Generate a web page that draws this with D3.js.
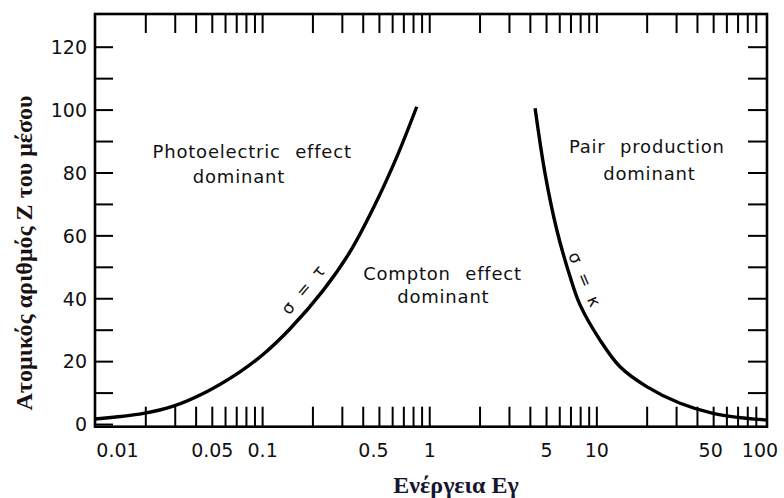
<!DOCTYPE html>
<html>
<head>
<meta charset="utf-8">
<script src="https://cdn.jsdelivr.net/npm/d3@7"></script>
<style>
  html, body { margin: 0; padding: 0; background: #fff; }
  svg { display: block; }
</style>
</head>
<body>
<svg id="chart" width="784" height="498"></svg>
<script>
// ---- data ----
// Boundary sigma = tau (photoelectric / Compton): photon energy (MeV) vs Z
const photoE = [0.01, 0.0195, 0.0294, 0.0466, 0.0737, 0.1017, 0.147, 0.232, 0.336, 0.463, 0.639, 0.842];
const photoZ = [1.6, 3.4, 5.7, 10.3, 16.6, 22.2, 30.3, 42.5, 54.8, 68.7, 84.9, 100.9];
// Boundary sigma = kappa (Compton / pair production)
const pairE = [4.30, 4.93, 5.80, 6.96, 7.99, 10.52, 13.86, 20.0, 31.7, 49.9, 79.4, 105];
const pairZ = [100.4, 79.7, 61.7, 46.9, 37.9, 26.7, 18.2, 11.9, 6.6, 3.4, 1.8, 1.3];
// Axis tick labels
const xTickLabels = [0.01, 0.05, 0.1, 0.5, 1, 5, 10, 50, 100];
const yTickLabels = [0, 20, 40, 60, 80, 100, 120];
// Region labels (text, energy at start, Z at baseline)
const regionLabels = [
  { lines: ["Photoelectric effect", "dominant"], E: [0.0221, 0.0385], Z: [84.5, 76.6] },
  { lines: ["Compton effect", "dominant"], E: [0.4025, 0.643], Z: [45.8, 38.4] },
  { lines: ["Pair production", "dominant"], E: [6.85, 11.0], Z: [86.2, 77.6] }
];
const xTitle = "Ενέργεια Εγ";
const yTitle = "Ατομικός αριθμός Z του μέσου";

// ---- layout ----
const mLeft = 95, mRight = 767, mTop = 14, mBottom = 426.7;
const svg = d3.select("#chart");

const x = d3.scaleLog().domain([0.01, 105]).range([mLeft, mRight]);
const y = d3.scaleLinear().domain([-0.85, 130.4]).range([mBottom, mTop]);

const sans = "'DejaVu Sans', sans-serif";
const serif = "'Liberation Serif', 'Times New Roman', serif";

// minor/major ticks on the log axis (inside the frame)
const xTicks = x.ticks().filter(v => v > 0.0101 && v < 99);

const axisStyle = g => {
  g.select(".domain").remove();
  g.selectAll(".tick line").attr("stroke", "#000").attr("stroke-width", 2);
};

svg.append("g").attr("transform", `translate(0,${mBottom})`)
  .call(d3.axisBottom(x).tickValues(xTicks).tickSize(-20).tickFormat(""))
  .call(axisStyle);
svg.append("g").attr("transform", `translate(0,${mTop})`)
  .call(d3.axisTop(x).tickValues(xTicks).tickSize(-19).tickFormat(""))
  .call(axisStyle);
svg.append("g").attr("transform", `translate(${mLeft},0)`)
  .call(d3.axisLeft(y).tickValues(d3.range(0, 121, 10)).tickSize(-18).tickFormat(""))
  .call(axisStyle);
svg.append("g").attr("transform", `translate(${mRight},0)`)
  .call(d3.axisRight(y).tickValues(d3.range(10, 121, 10)).tickSize(-19).tickFormat(""))
  .call(axisStyle);

// tick labels
const xl = svg.append("g").attr("transform", `translate(0,${mBottom})`)
  .call(d3.axisBottom(x).tickValues(xTickLabels).tickSize(0).tickPadding(16.5)
    .tickFormat(d => String(d)));
xl.select(".domain").remove();
xl.selectAll("text").attr("font-family", sans).attr("font-size", 19).attr("fill", "#111")
  .attr("dx", d => d === 0.01 ? 22 : d === 100 ? -4 : d === 0.5 ? -6 : d === 50 ? -3 : 0);

const yl = svg.append("g").attr("transform", `translate(${mLeft},0)`)
  .call(d3.axisLeft(y).tickValues(yTickLabels).tickSize(0).tickPadding(8));
yl.select(".domain").remove();
yl.selectAll("text").attr("font-family", sans).attr("font-size", 19).attr("fill", "#111")
  .attr("dy", "0.36em");

// frame
svg.append("rect").attr("x", mLeft).attr("y", mTop)
  .attr("width", mRight - mLeft).attr("height", mBottom - mTop)
  .attr("fill", "none").attr("stroke", "#000").attr("stroke-width", 2.6);

// boundary curves
const line = d3.line().x(d => x(d[0])).y(d => y(d[1])).curve(d3.curveCatmullRom.alpha(0.5));
svg.append("clipPath").attr("id", "plotclip").append("rect")
  .attr("x", mLeft).attr("y", mTop).attr("width", mRight - mLeft).attr("height", mBottom - mTop);
svg.append("path").datum(d3.zip(photoE, photoZ))
  .attr("d", line).attr("fill", "none").attr("stroke", "#000").attr("stroke-width", 3.4)
  .attr("clip-path", "url(#plotclip)");
svg.append("path").datum(d3.zip(pairE, pairZ))
  .attr("d", line).attr("fill", "none").attr("stroke", "#000").attr("stroke-width", 3.4)
  .attr("clip-path", "url(#plotclip)");

// region labels
regionLabels.forEach(r => {
  r.lines.forEach((t, i) => {
    svg.append("text")
      .attr("x", x(r.E[i])).attr("y", y(r.Z[i]))
      .attr("font-family", sans).attr("font-size", 18)
      .attr("letter-spacing", 0.8).attr("word-spacing", 8)
      .attr("fill", "#111")
      .text(t);
  });
});

// curve annotations
svg.append("text")
  .attr("transform", `translate(${x(0.187)},${y(41.5)}) rotate(-50)`)
  .attr("text-anchor", "middle")
  .attr("font-family", sans).attr("font-size", 17).attr("word-spacing", 6)
  .attr("fill", "#111").text("σ = τ");
svg.append("text")
  .attr("transform", `translate(${x(7.92)},${y(45.3)}) rotate(67)`)
  .attr("text-anchor", "middle")
  .attr("font-family", sans).attr("font-size", 17).attr("word-spacing", 6)
  .attr("fill", "#111").text("σ = κ");

// axis titles
svg.append("text")
  .attr("x", 456).attr("y", 493)
  .attr("text-anchor", "middle")
  .attr("font-family", serif).attr("font-weight", "bold").attr("font-size", 24)
  .attr("fill", "#16162e").text(xTitle);
svg.append("text")
  .attr("transform", "translate(32,253) rotate(-90)")
  .attr("text-anchor", "middle")
  .attr("font-family", serif).attr("font-weight", "bold").attr("font-size", 24)
  .attr("fill", "#1a1212").text(yTitle);
</script>
</body>
</html>
